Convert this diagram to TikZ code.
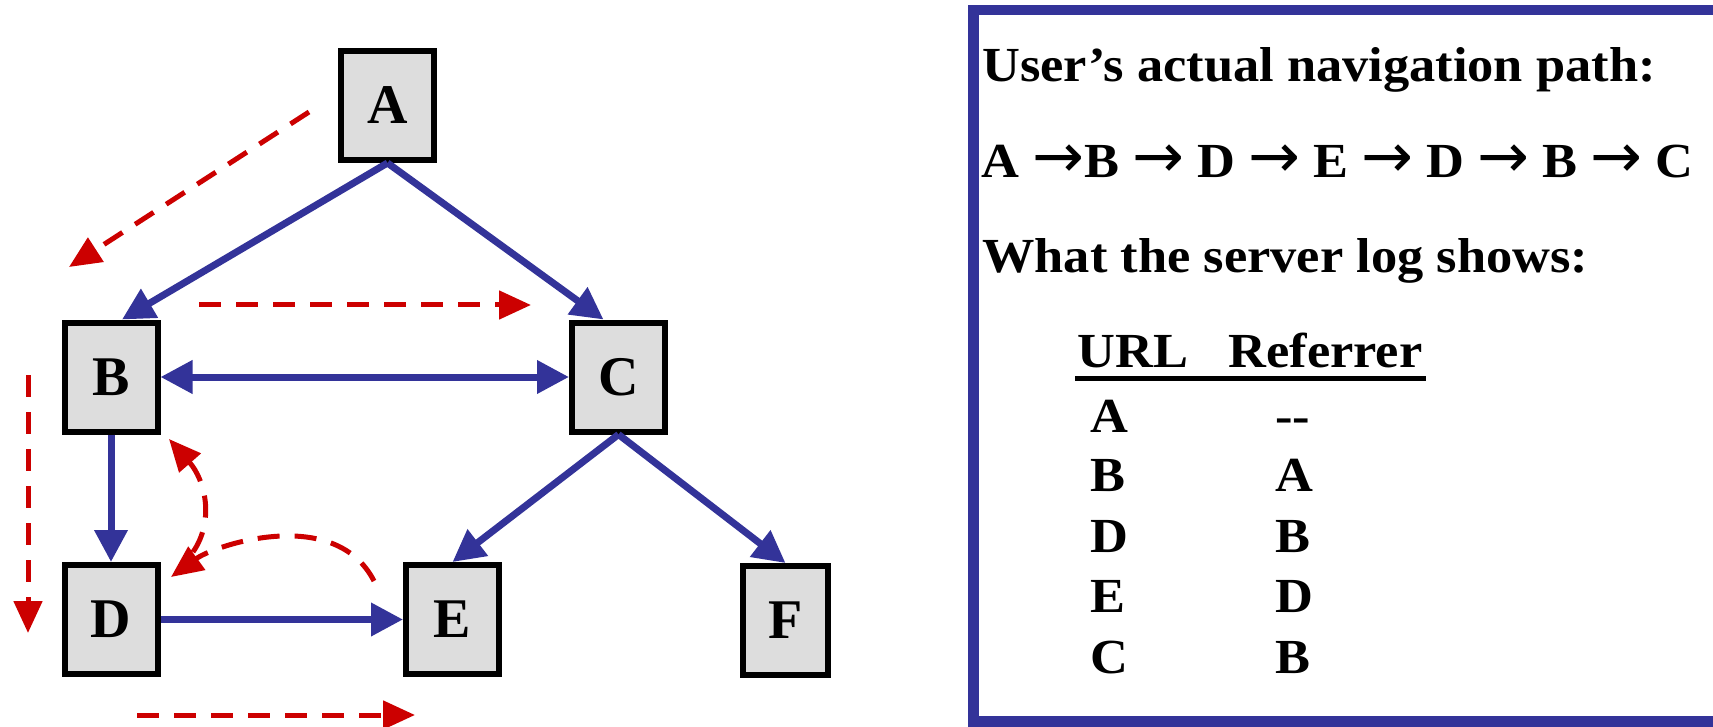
\documentclass[tikz,border=0pt]{standalone}
\usepackage{fontspec}
\setmainfont{Liberation Serif}
\newfontfamily\panelfont{Liberation Serif}[FakeStretch=1.07]
\newfontfamily\arrowfont{DejaVu Sans}
\usetikzlibrary{arrows.meta,calc}
\definecolor{linkblue}{RGB}{51,51,153}
\definecolor{pathred}{RGB}{204,0,0}
\definecolor{pagegray}{RGB}{221,221,221}
\newcommand{\goesto}{{\arrowfont\mdseries\fontsize{31}{31}\selectfont →}}
\begin{document}
\begin{tikzpicture}[x=0.5pt,y=-0.5pt,
  page/.style={draw=black, line width=3pt, fill=pagegray, minimum width=46.5pt,
    minimum height=54.5pt, inner sep=0pt, font=\fontsize{28}{28}\selectfont\bfseries},
  link/.style={draw=linkblue, line width=3.5pt, -{Triangle[length=16pt,width=16pt]}},
  linkboth/.style={draw=linkblue, line width=3.5pt,
    {Triangle[length=16pt,width=16pt]}-{Triangle[length=16pt,width=16pt]}},
  walk/.style={draw=pathred, line width=2.5pt, dash pattern=on 11pt off 7.5pt,
    -{Triangle[length=16pt,width=14pt]}},
  paneltext/.style={anchor=base west, inner sep=0pt,
    font=\panelfont\fontsize{24.5}{24.5}\selectfont\bfseries}]
\useasboundingbox (0,0) rectangle (1713,727);

% pages of the site
\node[page] (A) at (387.5,105.5) {A};
\node[page] (B) at (111,377) {B};
\node[page] (C) at (618.5,377) {C};
\node[page] (D) at (111,619.5) {D};
\node[page] (E) at (452.5,619.5) {E};
\node[page, minimum width=42.5pt] (F) at (785.5,620.5) {F};

% hyperlinks
\draw[link] (A.south) -- ($(B.north)+(11,0)$);
\draw[link] (A.south) -- ($(C.north)+(-15,0)$);
\draw[linkboth] (B.east) -- (C.west);
\draw[link] (B.south) -- (D.north);
\draw[link] (C.south) -- (E.north);
\draw[link] (C.south) -- (F.north);
\draw[link] (D.east) -- (E.west);

% the user's walk through the pages
\coordinate (w1s) at (309,112);  \coordinate (w1e) at (69,267);
\coordinate (w2s) at (199,305);  \coordinate (w2e) at (531,305);
\coordinate (w3s) at (28,375);   \coordinate (w3e) at (28,633);
\coordinate (w4s) at (137,715);  \coordinate (w4e) at (415,715);
\draw[walk] (w1s) -- (w1e);
\draw[walk] (w2s) -- (w2e);
\draw[walk] (w3s) -- (w3e);
\draw[walk] (w4s) -- (w4e);
\draw[walk] ($(E.north west)+(-29,19)$) .. controls (335,505) and (215,545) .. ($(D.north east)+(10.5,15)$);
\draw[walk] ($(D.north east)+(32.5,-10)$) .. controls (215,520) and (205,480) .. ($(B.south east)+(8.5,4.5)$);

% log panel
\draw[draw=linkblue, line width=5.3pt] (1740,10) -- (973.5,10) -- (973.5,721.5) -- (1740,721.5);
\node[paneltext] (t1) at (982,82) {User’s actual navigation path:};
\node[paneltext] (t2) at (981,178) {A \goesto B \goesto{} D \goesto{} E \goesto{} D \goesto{} B \goesto{} C};
\node[paneltext] (t3) at (982,272) {What the server log shows:};
\node[paneltext] (hu) at (1077,367) {URL};
\node[paneltext] (hr) at (1228,367) {Referrer};
\draw[line width=2.5pt] ($(hu.base west)+(-2,11)$) -- ($(hr.base east)+(3,11)$);

\node[paneltext] (u1) at (1090,432) {A};  \node[paneltext] (r1) at (1275,432) {-\kern0pt-};
\node[paneltext] (u2) at (1090,491) {B};  \node[paneltext] (r2) at (1275,491) {A};
\node[paneltext] (u3) at (1090,552) {D};  \node[paneltext] (r3) at (1275,552) {B};
\node[paneltext] (u4) at (1090,612) {E};  \node[paneltext] (r4) at (1275,612) {D};
\node[paneltext] (u5) at (1090,673) {C};  \node[paneltext] (r5) at (1275,673) {B};
\end{tikzpicture}
\end{document}
